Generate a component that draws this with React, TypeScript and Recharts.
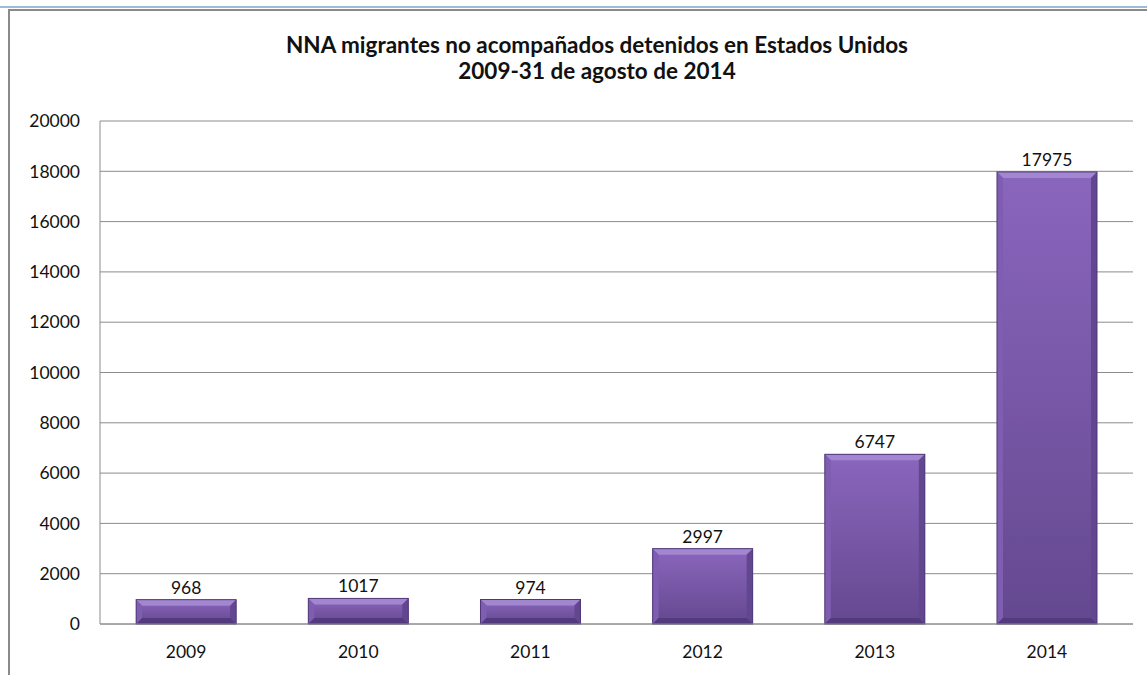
import React from "react";
import { BarChart, Bar, XAxis, YAxis, CartesianGrid, LabelList } from "recharts";

const years = ["2009", "2010", "2011", "2012", "2013", "2014"];
const detained = [968, 1017, 974, 2997, 6747, 17975];
const yTicks = [0, 2000, 4000, 6000, 8000, 10000, 12000, 14000, 16000, 18000, 20000];

const chartData = years.map((year, i) => ({ year, value: detained[i] }));

const FONT = "Lato, 'Liberation Sans', sans-serif";

// bar with the Excel-ish bevel look
function BevelBar(props: any) {
  const { x, y, width, height } = props;
  if (!height || height <= 0) return null;
  const b = Math.min(6, height / 3, width / 4);
  const x2 = x + width;
  const y2 = y + height;
  return (
    <g>
      <rect x={x} y={y} width={width} height={height} fill="url(#barFace)" />
      <polygon points={`${x},${y} ${x2},${y} ${x2 - b},${y + b} ${x + b},${y + b}`} fill="#a286d0" />
      <polygon points={`${x},${y} ${x + b},${y + b} ${x + b},${y2 - b} ${x},${y2}`} fill="#7f5db1" />
      <polygon points={`${x2},${y} ${x2},${y2} ${x2 - b},${y2 - b} ${x2 - b},${y + b}`} fill="#624690" />
      <polygon points={`${x},${y2} ${x + b},${y2 - b} ${x2 - b},${y2 - b} ${x2},${y2}`} fill="#533a7e" />
      <rect x={x} y={y} width={width} height={height} fill="none" stroke="#4f3878" strokeWidth={1} />
    </g>
  );
}

export default function App() {
  return (
    <div style={{ position: "absolute", left: 0, top: 0, width: 1147, height: 675, background: "#fff", overflow: "hidden", fontFamily: FONT }}>
      <div style={{ position: "absolute", left: 0, top: 6, width: 1147, height: 2, background: "#9dbbd8" }} />
      <div style={{ position: "absolute", left: 8, top: 9, width: 1139, height: 2, background: "#8a8a8a" }} />
      <div style={{ position: "absolute", left: 8, top: 9, width: 2, height: 666, background: "#8a8a8a" }} />
      <div style={{ position: "absolute", left: 0, top: 32, width: 1194, textAlign: "center", fontWeight: 700, fontSize: 22.5, lineHeight: "26px", color: "#111" }}>
        NNA migrantes no acompañados detenidos en Estados Unidos
        <br />
        2009-31 de agosto de 2014
      </div>
      <BarChart
        width={1147}
        height={675}
        data={chartData}
        margin={{ top: 121, right: 14, left: 20, bottom: 0 }}
        barCategoryGap="21%"
        style={{ position: "absolute", left: 0, top: 0 }}
      >
        <defs>
          <linearGradient id="barFace" x1="0" y1="0" x2="0" y2="1">
            <stop offset="0%" stopColor="#8a66bd" />
            <stop offset="100%" stopColor="#64488f" />
          </linearGradient>
        </defs>
        <CartesianGrid vertical={false} stroke="#8c8c8c" strokeWidth={1} />
        <XAxis
          dataKey="year"
          height={51}
          axisLine={{ stroke: "#8c8c8c" }}
          tickLine={false}
          tickSize={0}
          tickMargin={22}
          tick={{ fill: "#111", fontSize: 17.5, fontFamily: FONT }}
        />
        <YAxis
          width={80}
          domain={[0, 20000]}
          ticks={yTicks}
          interval={0}
          axisLine={{ stroke: "#8c8c8c" }}
          tickLine={false}
          tickSize={0}
          tickMargin={20}
          tick={{ fill: "#111", fontSize: 17.5, fontFamily: FONT }}
        />
        <Bar dataKey="value" shape={<BevelBar />} isAnimationActive={false}>
          <LabelList dataKey="value" position="top" offset={6} fill="#111" fontSize={17.5} fontFamily={FONT} />
        </Bar>
      </BarChart>
    </div>
  );
}
